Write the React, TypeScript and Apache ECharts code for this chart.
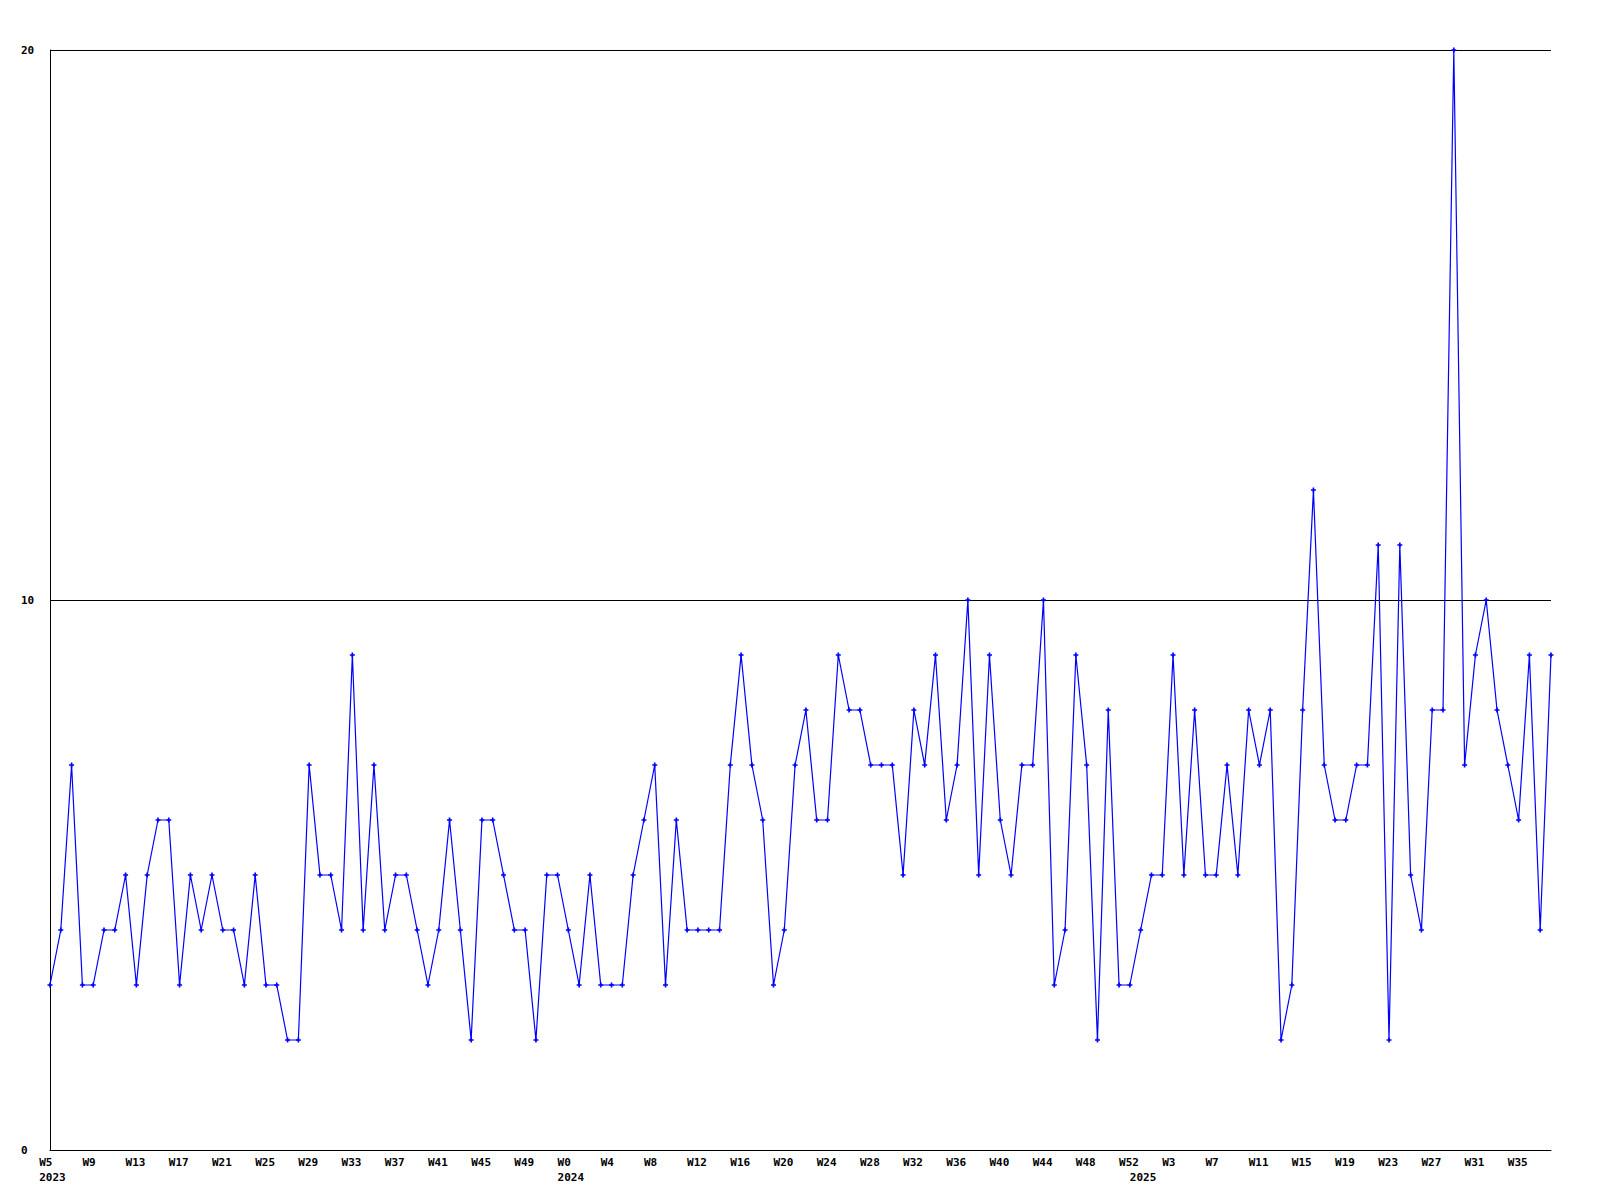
import React, { useEffect, useRef } from "react";
import * as echarts from "echarts";

// Week labels per year segment (first and last week number shown)
const years = [2023, 2024, 2025];
const firstWeeks = [5, 0, 0];
const lastWeeks = [52, 52, 38];

// Weekly values (W5 2023 .. W38 2025)
const values2023 = [
  3, 4, 7, 3, 3, 4, 4, 5, 3, 5, 6, 6, 3, 5, 4, 5, 4, 4, 3, 5, 3, 3,
  2, 2, 7, 5, 5, 4, 9, 4, 7, 4, 5, 5, 4, 3, 4, 6, 4, 2, 6, 6, 5, 4, 4, 2, 5, 5,
];
const values2024 = [
  4, 3, 5, 3, 3, 3, 5, 6, 7, 3, 6, 4, 4, 4, 4, 7, 9, 7, 6, 3, 4, 7, 8, 6,
  6, 9, 8, 8, 7, 7, 7, 5, 8, 7, 9, 6, 7, 10, 5, 9, 6, 5, 7, 7, 10, 3, 4, 9, 7,
  2, 8, 3, 3,
];
const values2025 = [
  4, 5, 5, 9, 5, 8, 5, 5, 7, 5, 8, 7, 8, 2, 3, 8, 12, 7, 6, 6, 7,
  7, 11, 2, 11, 5, 4, 8, 8, 20, 7, 9, 10, 8, 7, 6, 9, 4, 9,
];

const yTicks = [0, 10, 20];

const values = [...values2023, ...values2024, ...values2025];

const categories: string[] = [];
const yearStartIndex: number[] = [];
years.forEach((y, k) => {
  yearStartIndex.push(categories.length);
  for (let w = firstWeeks[k]; w <= lastWeeks[k]; w++) categories.push("W" + w);
});

const FONT = 'bold 11px "DejaVu Sans Mono"';
const MARK = "path://M2,0h2v2h2v2h-2v2h-2v-2h-2v-2h2z";

export default function App() {
  const ref = useRef<HTMLDivElement>(null);
  useEffect(() => {
    document.body.style.margin = "0";
    const chart = echarts.init(ref.current!, null, { renderer: "svg" });
    chart.setOption({
      animation: false,
      backgroundColor: "#ffffff",
      grid: { left: 50, right: 49, top: 50, bottom: 50, containLabel: false },
      xAxis: {
        type: "category",
        data: categories,
        boundaryGap: false,
        axisLine: { show: true, lineStyle: { color: "#000", width: 1 } },
        axisTick: { show: false },
        axisLabel: { show: false },
        splitLine: { show: false },
      },
      yAxis: {
        type: "value",
        min: yTicks[0],
        max: yTicks[yTicks.length - 1],
        interval: 10,
        axisLine: { show: true, lineStyle: { color: "#000", width: 1 } },
        axisTick: { show: false },
        axisLabel: {
          show: true,
          align: "left",
          margin: 29,
          color: "#000",
          fontFamily: "DejaVu Sans Mono",
          fontWeight: "bold",
          fontSize: 11,
        },
        splitLine: { show: true, lineStyle: { color: "#000", width: 1 } },
      },
      series: [
        {
          type: "line",
          data: values,
          symbol: MARK,
          symbolSize: 5,
          showSymbol: true,
          itemStyle: { color: "#0000ff" },
          lineStyle: { color: "#0000ff", width: 1.2 },
        },
      ],
    });

    const px = (i: number) => chart.convertToPixel({ xAxisIndex: 0 }, i) as number;
    const step = px(1) - px(0);
    const axisY = chart.convertToPixel({ yAxisIndex: 0 }, 0) as number;
    const graphics: any[] = [];
    categories.forEach((c, i) => {
      if (i % 4 === 0) {
        graphics.push({
          type: "text",
          x: px(i) - step,
          y: axisY + 12,
          style: { text: c, font: FONT, fill: "#000", align: "left", verticalAlign: "middle" },
        });
      }
    });
    yearStartIndex.forEach((idx, k) => {
      graphics.push({
        type: "text",
        x: px(idx) - step,
        y: axisY + 27,
        style: { text: String(years[k]), font: FONT, fill: "#000", align: "left", verticalAlign: "middle" },
      });
    });
    chart.setOption({ graphic: graphics });

    return () => chart.dispose();
  }, []);
  return (
    <div
      ref={ref}
      style={{ position: "fixed", left: 0, top: 0, width: 1600, height: 1200, background: "#fff" }}
    />
  );
}
